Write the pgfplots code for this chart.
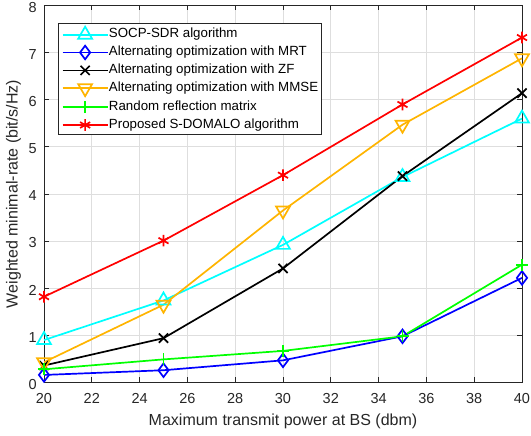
\documentclass[border=0pt]{standalone}
\usepackage{pgfplots}
\pgfplotsset{compat=1.18}
\usepackage{fontspec}
\setmainfont{Liberation Sans}
\definecolor{mcyan}{RGB}{0,255,255}
\definecolor{mblue}{RGB}{0,0,255}
\definecolor{mgreen}{RGB}{0,255,0}
\definecolor{morange}{RGB}{255,180,0}
\definecolor{mred}{RGB}{255,0,0}
\definecolor{axgray}{RGB}{38,38,38}
\begin{document}
\begin{tikzpicture}
\begin{axis}[
  scale only axis,
  width=478pt, height=377pt,
  xmin=20, xmax=40, ymin=0, ymax=8,
  xtick={20,22,...,40}, ytick={0,1,...,8},
  grid=major,
  major grid style={draw=black!13, line width=0.8pt},
  axis line style={draw=axgray, line width=0.8pt},
  tick style={draw=axgray, line width=0.8pt},
  tick align=inside,
  major tick length=5pt,
  xtick pos=both, ytick pos=both,
  ticklabel style={font=\fontsize{14.5}{16}\selectfont, text=axgray, inner sep=0pt},
  xticklabel style={anchor=center, yshift=-15.8pt},
  yticklabel style={anchor=east, xshift=-7pt, yshift=-1.8pt},
  /pgf/number format/assume math mode=true,
  xlabel={Maximum transmit power at BS (dbm)},
  ylabel={Weighted minimal-rate (bit/s/Hz)},
  label style={font=\fontsize{16}{18}\selectfont, text=axgray},
  xlabel style={at={(axis description cs:0.5,-0.104)}, anchor=center},
  ylabel style={at={(axis description cs:-0.064,0.5)}, anchor=center},
  legend cell align=left,
  legend style={at={(0.030,0.953)}, anchor=north west, draw=axgray,
    font=\fontsize{13.3}{15}\selectfont, row sep=4.3pt, inner xsep=3pt, inner ysep=3pt,
    nodes={inner sep=0.5pt, text height=9.5pt, text depth=3pt}},
  every axis legend/.append style={line width=0.9pt},
  legend image code/.code={\draw[line width=1.7pt, mark repeat=2, mark phase=2] plot coordinates {(0pt,0pt) (22.5pt,0pt) (45pt,0pt)};},
  legend image post style={line width=1.7pt},
  every axis plot/.append style={line width=1.7pt},
]
\addplot[color=mcyan, mark=triangle, mark size=8pt] coordinates {(20,0.90) (25,1.74) (30,2.92) (35,4.36) (40,5.60)};
\addlegendentry{SOCP-SDR algorithm}
\addplot[color=mblue, mark=diamond, mark size=6.8pt] coordinates {(20,0.16) (25,0.26) (30,0.47) (35,0.98) (40,2.22)};
\addlegendentry{Alternating optimization with MRT}
\addplot[color=black, mark=x, mark size=6.5pt] coordinates {(20,0.36) (25,0.94) (30,2.42) (35,4.38) (40,6.14)};
\addlegendentry{Alternating optimization with ZF}
\addplot[color=morange, mark=triangle, mark size=8pt, mark options={rotate=180}] coordinates {(20,0.43) (25,1.65) (30,3.65) (35,5.47) (40,6.88)};
\addlegendentry{Alternating optimization with MMSE}
\addplot[color=mgreen, mark=+, mark size=6pt] coordinates {(20,0.28) (25,0.49) (30,0.67) (35,0.98) (40,2.50)};
\addlegendentry{Random reflection matrix}
\addplot[color=mred, mark=asterisk, mark size=5.8pt] coordinates {(20,1.82) (25,3.01) (30,4.40) (35,5.90) (40,7.32)};
\addlegendentry{Proposed S-DOMALO algorithm}
\end{axis}
\pgfresetboundingbox
\path[use as bounding box] ([shift={(-44pt,-53.3pt)}]current axis.south west) rectangle ([shift={(9pt,5.5pt)}]current axis.north east);
\end{tikzpicture}
\end{document}
